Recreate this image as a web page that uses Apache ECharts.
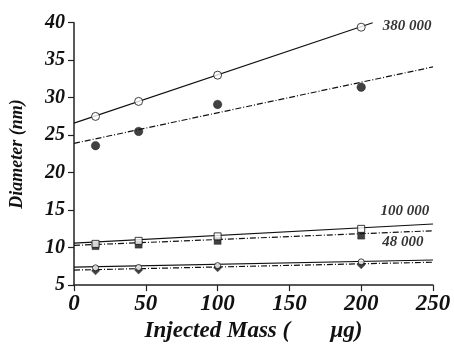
<!DOCTYPE html>
<html><head><meta charset="utf-8">
<script src="https://cdn.jsdelivr.net/npm/echarts@6/dist/echarts.min.js"></script>
<style>html,body{margin:0;padding:0;background:#fff}#c{width:454px;height:348px}</style>
</head><body><div id="c"></div>
<script>
// Injected mass (µg)
var masses = [15, 45, 100, 200];
// Diameter (nm)
var open380 = [27.5, 29.5, 33.0, 39.4];
var filled380 = [23.6, 25.5, 29.1, 31.4];
var open100 = [10.5, 10.9, 11.5, 12.5];
var filled100 = [10.2, 10.4, 10.9, 11.6];
var open48 = [7.3, 7.35, 7.6, 8.1];
var filled48 = [6.9, 7.0, 7.3, 7.7];
// fitted lines [x, y] endpoints
var fitOpen380 = [[0, 26.6], [208, 40]];
var fitFilled380 = [[0, 23.9], [250, 34.1]];
var fitOpen100 = [[0, 10.6], [250, 13.15]];
var fitFilled100 = [[0, 10.3], [250, 12.25]];
var fitOpen48 = [[0, 7.4], [250, 8.35]];
var fitFilled48 = [[0, 7.0], [250, 8.05]];
// annotations
var seriesNames = ['380 000', '100 000', '48 000'];
var labelPos = [[232, 39.5], [230.5, 14.9], [229, 10.75]];
var xTicks = [0, 50, 100, 150, 200, 250];
var yTicks = [5, 10, 15, 20, 25, 30, 35, 40];

var font = 'Liberation Serif';
function pts(ys){ return masses.map(function(m,i){ return [m, ys[i]]; }); }
function fit(d, dashed){
  return {type:'line', data:d, symbol:'none', silent:true, z:2,
    lineStyle:{color:'#111', width:1.2, type: dashed ? [6,2,1,2] : 'solid'}};
}
function sc(ys, symbol, size, open){
  return {type:'scatter', data:pts(ys), symbol:symbol, symbolSize:size, z:5, silent:true,
    itemStyle: open ? {color:'#fff', borderColor:'#111', borderWidth:1} : {color:'#111', borderColor:'#111', borderWidth:0.5}};
}
var chart = echarts.init(document.getElementById('c'));
var axisFont = {fontFamily:font, fontStyle:'italic', fontWeight:'bold', color:'#111'};
chart.setOption({
  animation:false,
  grid:{left:72, right:21, top:22.7, bottom:61.7},
  xAxis:{type:'value', min:0, max:250, interval:50,
    name:'Injected Mass (       \u03bcg)', nameLocation:'middle', nameGap:21,
    nameTextStyle:Object.assign({fontSize:23}, axisFont),
    axisLine:{lineStyle:{color:'#222', width:1.5}},
    axisTick:{show:true, length:6, lineStyle:{color:'#222', width:1.2}},
    axisLabel:Object.assign({fontSize:23, margin:7}, axisFont),
    splitLine:{show:false}},
  yAxis:{type:'value', min:5, max:40, interval:5,
    name:'Diameter (nm)', nameLocation:'middle', nameGap:48,
    nameTextStyle:Object.assign({fontSize:18}, axisFont),
    axisLine:{show:true, lineStyle:{color:'#222', width:1.5}},
    axisTick:{show:true, length:6, lineStyle:{color:'#222', width:1.2}},
    axisLabel:Object.assign({fontSize:20, margin:9}, axisFont),
    splitLine:{show:false}},
  series:[
    fit(fitOpen380, false), fit(fitFilled380, true),
    fit(fitOpen100, false), fit(fitFilled100, true),
    fit(fitOpen48, false), fit(fitFilled48, true),
    sc(filled380, 'circle', 8.5, false), sc(open380, 'circle', 8, true),
    sc(filled100, 'rect', 7, false), sc(open100, 'rect', 7, true),
    sc(filled48, 'diamond', 8, false), sc(open48, 'circle', 6, true),
    {type:'scatter', silent:true, z:6, symbolSize:0,
      data: labelPos.map(function(p, i){ return {value:p, name:seriesNames[i]}; }),
      label:{show:true, position:'inside', formatter:'{b}', color:'#000', textBorderWidth:0, fontFamily:font, fontStyle:'italic', fontWeight:'bold', fontSize:15}}
  ]
});
</script></body></html>
